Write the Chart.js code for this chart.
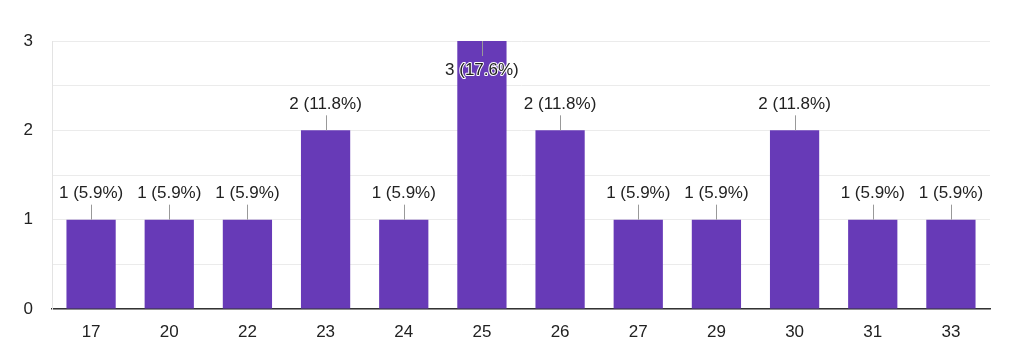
<!DOCTYPE html>
<html><head><meta charset="utf-8">
<script src="https://cdn.jsdelivr.net/npm/chart.js@4/dist/chart.umd.min.js"></script>
<style>html,body{margin:0;padding:0;background:#fff}#wrap{width:1022px;height:358px}</style>
</head><body><div id="wrap"><canvas id="c" width="1022" height="358"></canvas></div>
<script>
const categories = ['17','20','22','23','24','25','26','27','29','30','31','33'];
const counts = [1,1,1,2,1,3,2,1,1,2,1,1];
const percents = ['5.9%','5.9%','5.9%','11.8%','5.9%','17.6%','11.8%','5.9%','5.9%','11.8%','5.9%','5.9%'];
const yTicks = [0,1,2,3];

const FONT = '"Liberation Sans", Arial, sans-serif';

const labelPlugin = {
  id: 'barLabels',
  afterDatasetsDraw(chart) {
    const ctx = chart.ctx;
    const meta = chart.getDatasetMeta(0);
    const area = chart.chartArea;
    ctx.save();
    ctx.font = '17px ' + FONT;
    ctx.textAlign = 'center';
    ctx.textBaseline = 'middle';
    meta.data.forEach((bar, i) => {
      const txt = counts[i] + ' (' + percents[i] + ')';
      const top = bar.y;
      let y1, y2, ty;
      if (top <= area.top + 1) {
        y1 = top; y2 = top + 15; ty = top + 29;
      } else {
        y1 = top; y2 = top - 15; ty = top - 26;
      }
      ctx.strokeStyle = '#999';
      ctx.lineWidth = 1;
      ctx.beginPath();
      ctx.moveTo(Math.round(bar.x) + 0.5, y1);
      ctx.lineTo(Math.round(bar.x) + 0.5, y2);
      ctx.stroke();
      ctx.lineJoin = 'round';
      ctx.strokeStyle = '#fff';
      ctx.lineWidth = 2;
      ctx.strokeText(txt, bar.x, ty);
      ctx.fillStyle = '#222';
      ctx.fillText(txt, bar.x, ty);
    });
    ctx.restore();
  }
};

new Chart(document.getElementById('c'), {
  type: 'bar',
  data: {
    labels: categories,
    datasets: [{
      data: counts,
      backgroundColor: '#673ab7',
      barPercentage: 0.63,
      categoryPercentage: 1.0
    }]
  },
  options: {
    responsive: false,
    animation: false,
    devicePixelRatio: 1,
    layout: { padding: { top: 41, right: 32, bottom: 8, left: 0 } },
    plugins: { legend: { display: false }, tooltip: { enabled: false } },
    scales: {
      x: {
        grid: { display: false, drawTicks: false },
        border: { color: '#333', width: 1.5 },
        ticks: { color: '#222', font: { size: 17, family: FONT }, padding: 13 },
        afterFit(s) { s.height = 41; }
      },
      y: {
        min: 0, max: yTicks[yTicks.length - 1],
        grid: { color: '#ebebeb', drawTicks: false, lineWidth: 1 },
        border: { color: '#e3e3e3', width: 1 },
        ticks: {
          stepSize: 0.5,
          color: '#222', font: { size: 17, family: FONT }, padding: 19,
          callback: v => yTicks.includes(v) ? String(v) : ''
        },
        afterFit(s) { s.width = 52; }
      }
    }
  },
  plugins: [labelPlugin]
});
</script></body></html>
